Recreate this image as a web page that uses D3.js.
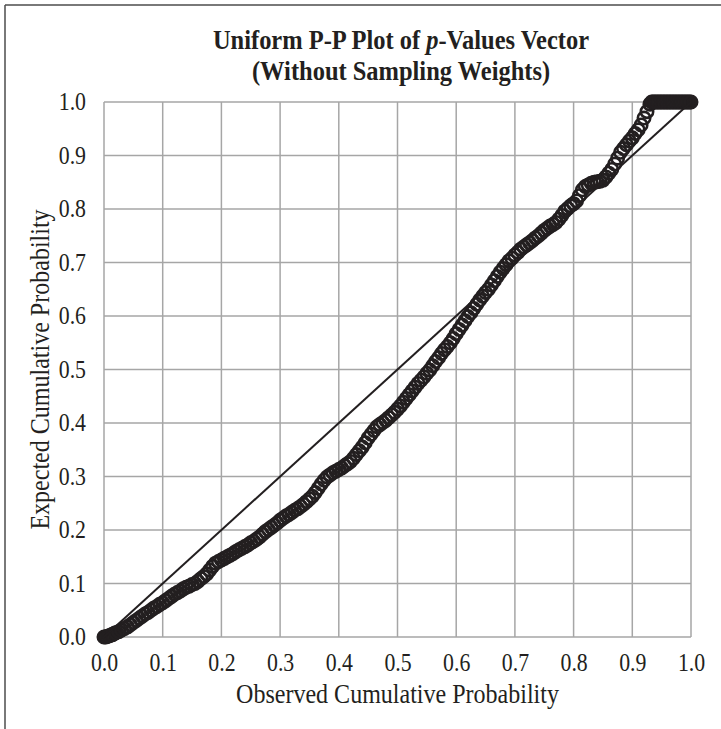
<!DOCTYPE html>
<html>
<head>
<meta charset="utf-8">
<script src="https://cdn.jsdelivr.net/npm/d3@7"></script>
<style>
  html, body { margin: 0; padding: 0; background: #fff; }
  svg { display: block; }
</style>
</head>
<body>
<svg id="chart" width="721" height="729"></svg>
<script>
const titleLines = ["Uniform P-P Plot of ", "p", "-Values Vector", "(Without Sampling Weights)"];
const xAxisTitle = "Observed Cumulative Probability";
const yAxisTitle = "Expected Cumulative Probability";
const tickValues = [0, 0.1, 0.2, 0.3, 0.4, 0.5, 0.6, 0.7, 0.8, 0.9, 1.0];

const observed = [
  0.000,0.003,0.005,0.008,0.010,0.013,0.015,0.018,0.020,0.025,0.030,0.035,0.040,0.045,
  0.050,0.055,0.060,0.065,0.070,0.075,0.080,0.085,0.090,0.095,
  0.100,0.105,0.110,0.115,0.120,0.125,0.130,0.135,0.140,0.145,
  0.150,0.155,0.160,0.165,0.170,0.175,0.180,0.185,0.190,0.195,
  0.200,0.205,0.210,0.215,0.220,0.225,0.230,0.235,0.240,0.245,
  0.250,0.255,0.260,0.265,0.270,0.275,0.280,0.285,0.290,0.295,
  0.300,0.305,0.310,0.315,0.320,0.325,0.330,0.335,0.340,0.345,
  0.350,0.355,0.360,0.365,0.370,0.375,0.380,0.385,0.390,0.395,
  0.400,0.405,0.410,0.415,0.420,0.425,0.430,0.435,0.440,0.445,
  0.450,0.455,0.460,0.465,0.470,0.475,0.480,0.485,0.490,0.495,
  0.500,0.505,0.510,0.515,0.520,0.525,0.530,0.535,0.540,0.545,
  0.550,0.555,0.560,0.565,0.570,0.575,0.580,0.585,0.590,0.595,
  0.600,0.605,0.610,0.615,0.620,0.625,0.630,0.635,0.640,0.645,
  0.650,0.655,0.660,0.665,0.670,0.675,0.680,0.685,0.690,0.695,
  0.700,0.705,0.710,0.715,0.720,0.725,0.730,0.735,0.740,0.745,
  0.750,0.755,0.760,0.765,0.770,0.775,0.780,0.785,0.790,0.795,
  0.800,0.805,0.810,0.815,0.820,0.825,0.830,0.835,0.840,0.845,
  0.850,0.855,0.860,0.865,0.870,0.875,0.880,0.885,0.890,0.895,
  0.900,0.905,0.910,0.915,0.920,0.925,0.930,0.933,0.935,0.938,0.940,0.943,0.945,0.948,
  0.950,0.953,0.955,0.958,0.960,0.963,0.965,0.968,0.970,0.973,0.975,0.978,
  0.980,0.983,0.985,0.988,0.990,0.993,0.995,0.998,1.000
];
const expected = [
  0.000,0.000,0.001,0.002,0.003,0.004,0.005,0.007,0.008,0.010,0.013,0.016,0.019,0.023,
  0.027,0.031,0.035,0.039,0.043,0.046,0.050,0.054,0.057,0.061,
  0.064,0.068,0.072,0.076,0.080,0.083,0.086,0.090,0.093,0.095,
  0.098,0.100,0.104,0.109,0.113,0.118,0.125,0.132,0.138,0.141,
  0.144,0.147,0.150,0.153,0.156,0.160,0.163,0.166,0.169,0.172,
  0.176,0.179,0.183,0.187,0.192,0.197,0.201,0.205,0.209,0.213,
  0.218,0.222,0.226,0.229,0.233,0.237,0.240,0.244,0.248,0.253,
  0.258,0.263,0.270,0.278,0.286,0.293,0.299,0.303,0.307,0.310,
  0.313,0.316,0.320,0.324,0.328,0.334,0.341,0.348,0.355,0.363,
  0.372,0.379,0.386,0.393,0.397,0.401,0.405,0.410,0.415,0.420,
  0.426,0.432,0.439,0.446,0.453,0.460,0.467,0.474,0.480,0.486,
  0.493,0.499,0.507,0.515,0.522,0.530,0.537,0.543,0.550,0.558,
  0.567,0.575,0.583,0.591,0.599,0.606,0.614,0.622,0.630,0.637,
  0.644,0.650,0.658,0.666,0.674,0.682,0.689,0.696,0.703,0.708,
  0.714,0.719,0.725,0.729,0.733,0.737,0.741,0.746,0.750,0.755,
  0.760,0.764,0.768,0.771,0.775,0.781,0.788,0.796,0.801,0.806,
  0.810,0.815,0.825,0.836,0.842,0.845,0.848,0.850,0.851,0.852,
  0.854,0.860,0.867,0.874,0.884,0.895,0.906,0.913,0.920,0.927,
  0.933,0.941,0.948,0.957,0.970,0.982,0.996,1.000,1.000,1.000,1.000,1.000,1.000,1.000,
  1.000,1.000,1.000,1.000,1.000,1.000,1.000,1.000,1.000,1.000,1.000,1.000,
  1.000,1.000,1.000,1.000,1.000,1.000,1.000,1.000,1.000
];

const svg = d3.select("#chart");
const W = 721, H = 729;
const mLeft = 104, mRight = 691, mTop = 102, mBottom = 637;
const serif = "Liberation Serif, Times New Roman, serif";
const ink = "#231f20";
const squeeze = 0.89; // reference typeface is slightly condensed

const x = d3.scaleLinear().domain([0, 1]).range([mLeft, mRight]);
const y = d3.scaleLinear().domain([0, 1]).range([mBottom, mTop]);

// outer frame (top and left edges)
svg.append("line").attr("x1", 5).attr("y1", 5).attr("x2", W).attr("y2", 5)
  .attr("stroke", "#4d4d4d").attr("stroke-width", 1.5);
svg.append("line").attr("x1", 5).attr("y1", 5).attr("x2", 5).attr("y2", H)
  .attr("stroke", "#4d4d4d").attr("stroke-width", 1.5);

// title
const title = svg.append("text")
  .attr("transform", `translate(401,49) scale(${squeeze},1)`)
  .attr("text-anchor", "middle")
  .attr("font-family", serif)
  .attr("font-weight", "bold").attr("font-size", 27.5).attr("fill", ink);
title.append("tspan").text(titleLines[0]);
title.append("tspan").attr("font-style", "italic").text(titleLines[1]);
title.append("tspan").text(titleLines[2]);
svg.append("text")
  .attr("transform", `translate(401,80) scale(${squeeze},1)`)
  .attr("text-anchor", "middle")
  .attr("font-family", serif)
  .attr("font-weight", "bold").attr("font-size", 27.5).attr("fill", ink)
  .text(titleLines[3]);

// gridlines
const grid = svg.append("g").attr("stroke", "#a6a6a6").attr("stroke-width", 1.5);
grid.selectAll("line.v").data(tickValues).enter().append("line")
  .attr("class", "v")
  .attr("x1", d => x(d)).attr("x2", d => x(d))
  .attr("y1", y(1)).attr("y2", y(0));
grid.selectAll("line.h").data(tickValues).enter().append("line")
  .attr("class", "h")
  .attr("x1", x(0)).attr("x2", x(1))
  .attr("y1", d => y(d)).attr("y2", d => y(d));

// axes (labels only)
const fmt = d3.format(".1f");
const xAxis = svg.append("g").attr("transform", `translate(0,${mBottom})`)
  .call(d3.axisBottom(x).tickValues(tickValues).tickFormat(fmt).tickSize(0).tickPadding(17));
const yAxis = svg.append("g").attr("transform", `translate(${mLeft},0)`)
  .call(d3.axisLeft(y).tickValues(tickValues).tickFormat(fmt).tickSize(0).tickPadding(18 / squeeze));
[xAxis, yAxis].forEach(a => {
  a.select(".domain").remove();
  a.selectAll("text")
    .attr("font-family", serif)
    .attr("font-size", 24.5).attr("fill", ink)
    .attr("transform", `scale(${squeeze},1)`);
});

// points
svg.append("g").selectAll("circle").data(observed.map((o, i) => [o, expected[i]]))
  .enter().append("circle")
  .attr("cx", d => x(d[0])).attr("cy", d => y(d[1]))
  .attr("r", 6.2)
  .attr("fill", "none")
  .attr("stroke", ink).attr("stroke-width", 2.6);

// reference diagonal
svg.append("line")
  .attr("x1", x(0)).attr("y1", y(0)).attr("x2", x(1)).attr("y2", y(1))
  .attr("stroke", ink).attr("stroke-width", 2);

// axis titles
svg.append("text")
  .attr("transform", `translate(${(mLeft + mRight) / 2},703) scale(${squeeze},1)`)
  .attr("text-anchor", "middle")
  .attr("font-family", serif)
  .attr("font-size", 27).attr("fill", ink)
  .text(xAxisTitle);
svg.append("text")
  .attr("transform", `translate(49,${(mTop + mBottom) / 2}) rotate(-90) scale(${squeeze},1)`)
  .attr("text-anchor", "middle")
  .attr("font-family", serif)
  .attr("font-size", 27).attr("fill", ink)
  .text(yAxisTitle);
</script>
</body>
</html>
